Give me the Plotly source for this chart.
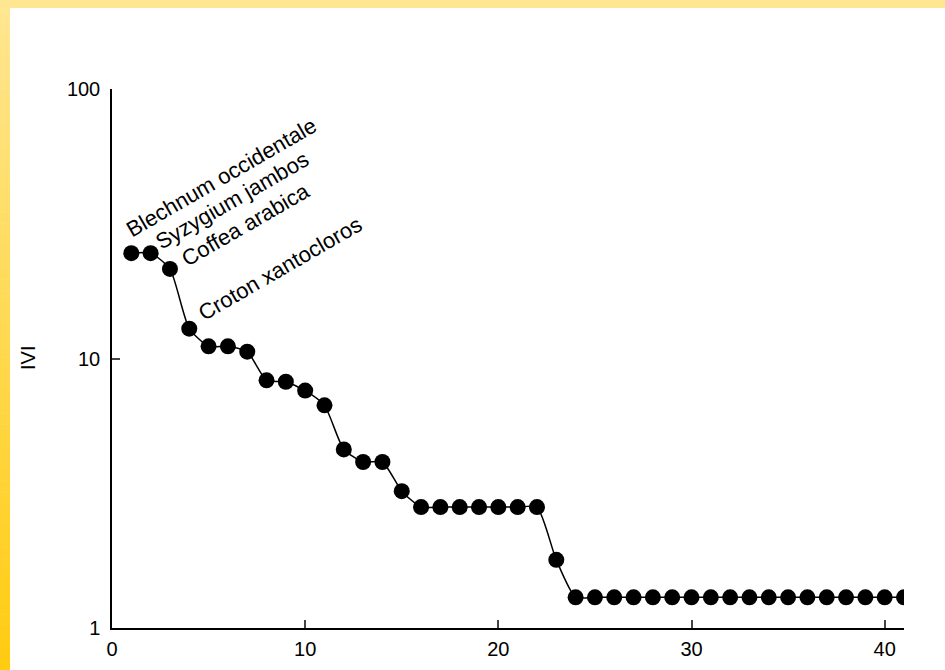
import math
import plotly.graph_objects as go

# Rank of species and their Importance Value Index (IVI)
rank = list(range(1, 42))
ivi = [24.6, 24.6, 21.5, 12.9, 11.1, 11.1, 10.6, 8.3, 8.2, 7.6, 6.7,
       4.6, 4.13, 4.13, 3.22,
       2.81, 2.81, 2.81, 2.81, 2.81, 2.81, 2.81,
       1.79] + [1.30] * 18

label_ranks = [1, 2, 3, 4]
label_names = ["Blechnum occidentale", "Syzygium jambos", "Coffea arabica", "Croton xantocloros"]
label_shifts = [(-12, 8), (-2, -4), (5, -5), (2, 0)]

x_ticks = [0, 10, 20, 30, 40]
y_ticks = [1, 10, 100]

FONT = "Arial, Liberation Sans, sans-serif"

fig = go.Figure()
fig.add_trace(go.Scatter(
    x=rank, y=ivi, mode="lines+markers",
    line=dict(color="black", width=1.5, shape="spline", smoothing=0.6),
    marker=dict(color="black", size=16),
    showlegend=False,
))

for r, name, (dx, dy) in zip(label_ranks, label_names, label_shifts):
    fig.add_annotation(
        x=r, y=math.log10(ivi[r - 1]),
        text=name, showarrow=False, textangle=-30,
        xanchor="left", yanchor="bottom", xshift=dx, yshift=dy,
        font=dict(family=FONT, size=22, color="black"),
    )

# Yellow gradient border (left strip + top strip)
L, R, T, B = 112, 41, 89, 42
W, H = 945, 670
pw, ph = W - L - R, H - T - B
def px(xp):
    return (xp - L) / pw
def py(yp):
    return (H - B - yp) / ph

# y-axis title
fig.add_annotation(x=px(28), y=py(358), xref="paper", yref="paper", text="IVI",
                   showarrow=False, textangle=-90, xanchor="center", yanchor="middle",
                   font=dict(family=FONT, size=20, color="black"))

shapes = []
n = 60
c0 = (255, 230, 145)
c1 = (255, 204, 17)
for i in range(n):
    t = i / (n - 1)
    c = tuple(round(a + (b - a) * t) for a, b in zip(c0, c1))
    y0p = H * i / n
    y1p = H * (i + 1) / n + 0.5
    shapes.append(dict(type="rect", xref="paper", yref="paper",
                       x0=px(0), x1=px(10), y0=py(y1p), y1=py(y0p),
                       fillcolor="rgb(%d,%d,%d)" % c, line=dict(width=0), layer="below"))
shapes.append(dict(type="rect", xref="paper", yref="paper",
                   x0=px(0), x1=px(W), y0=py(8), y1=py(0),
                   fillcolor="rgb(255,230,145)", line=dict(width=0), layer="below"))

fig.update_layout(
    width=W, height=H,
    margin=dict(l=L, r=R, t=T, b=B, autoexpand=False),
    paper_bgcolor="white", plot_bgcolor="white",
    font=dict(family=FONT, size=20, color="black"),
    shapes=shapes,
    xaxis=dict(range=[0, 41], tickvals=x_ticks, ticks="inside", ticklen=8,
               tickwidth=1.5, showline=True, linecolor="black", linewidth=1.5,
               showgrid=False, zeroline=False, tickfont=dict(size=20),
               ticklabelstandoff=2, automargin=False),
    yaxis=dict(type="log", range=[0, 2], tickvals=y_ticks, ticktext=["1", "10", "100"],
               ticks="inside", ticklen=8, tickwidth=1.5, showline=True,
               linecolor="black", linewidth=1.5, showgrid=False, zeroline=False,
               tickfont=dict(size=20), ticklabelstandoff=6, automargin=False),
)

fig.write_html("out.html", config={"displayModeBar": False},
               post_script="document.body.style.margin='0';")
